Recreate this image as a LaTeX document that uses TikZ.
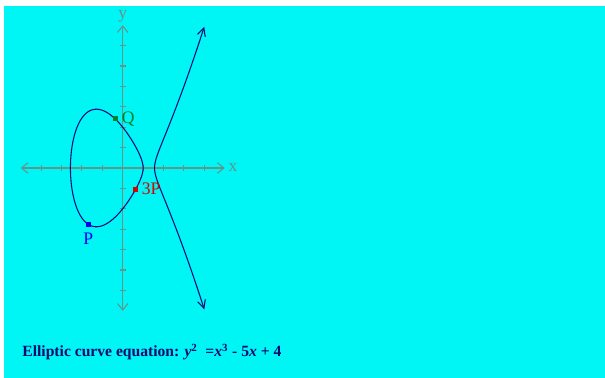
\documentclass[tikz,border=0pt]{standalone}
\usepackage{fontspec}
\setmainfont{Liberation Serif}
\usetikzlibrary{arrows.meta,positioning}
\definecolor{fond}{RGB}{0,245,245}
\definecolor{grisaxe}{RGB}{96,150,140}
\definecolor{courbe}{RGB}{10,10,120}
\definecolor{vertQ}{RGB}{0,128,40}
\definecolor{rougeP}{RGB}{215,0,0}
\definecolor{bleuP}{RGB}{0,0,245}
\definecolor{encre}{RGB}{10,10,110}

\begin{document}
\begin{tikzpicture}[
  declare function={f(\x)=\x*\x*\x-5*\x+4;},
  axis/.style={grisaxe, line width=0.75pt},
  curve/.style={courbe, line width=0.75pt},
  barb/.style={{Straight Barb[length=1.6mm,width=2.6mm]}-{Straight Barb[length=1.6mm,width=2.6mm]}},
  pointmark/.style={rectangle, fill=#1, inner sep=0pt, minimum size=1.25mm},
  lbl/.style={font=\fontsize{12.5}{14}\selectfont, inner sep=1pt}
]
  % Fond cyan (petite bordure blanche en haut et a gauche)
  \useasboundingbox (0,0) rectangle (15.125,9.45);
  \fill[fond] (0.1,0) rectangle (15.125,9.3);
  \begin{scope}[shift={(3.0675cm,5.25cm)}, x=0.51cm, y=0.51cm]
    % Axes
    \coordinate (xmin) at (-5,0);
    \coordinate (xmax) at (5,0);
    \coordinate (ymin) at (0,-7);
    \coordinate (ymax) at (0,7);
    \draw[axis, barb] (xmin) -- (xmax);
    \draw[axis, barb] (ymin) -- (ymax);
    \foreach \i in {-4,...,-1,1,2,3,4}
      \draw[axis] (\i,-0.15) -- (\i,0.15);
    \foreach \j in {-6,...,-1,1,2,...,6}
      \draw[axis] (-0.15,\j) -- (0.15,\j);
    \node[lbl, grisaxe] (xlab) at (5.41,0.05) {x};
    \node[lbl, grisaxe] (ylab) at (0,7.45) {y};
    % Ovale : x entre -2.5616 et 1
    \draw[curve] plot[domain=0:180, samples=120, variable=\t]
      ({-0.7808-1.7808*cos(\t)}, {sqrt(abs(f(-0.7808-1.7808*cos(\t))))})
      -- plot[domain=180:360, samples=120, variable=\t]
      ({-0.7808-1.7808*cos(\t)}, {-sqrt(abs(f(-0.7808-1.7808*cos(\t))))})
      -- cycle;
    % Branche infinie : x entre 1.5616 et 4
    \draw[curve, {Straight Barb[length=2mm,width=2mm]}-{Straight Barb[length=2mm,width=2mm]}]
      plot[domain=1:0, samples=60, variable=\s]
      ({1.5616+2.4384*\s*\s}, {-sqrt(abs(f(1.5616+2.4384*\s*\s)))})
      -- plot[domain=0:1, samples=60, variable=\s]
      ({1.5616+2.4384*\s*\s}, {sqrt(abs(f(1.5616+2.4384*\s*\s)))});
    % Points P, Q et 3P
    \node[pointmark=vertQ] (Q) at (-0.377, {sqrt(f(-0.377))}) {};
    \node[pointmark=rougeP] (P3) at (0.64, {-sqrt(f(0.64))}) {};
    \node[pointmark=bleuP] (P) at (-1.69, {-sqrt(f(-1.69))}) {};
    \node[lbl, vertQ, right=0.06cm of Q] (Qlab) {Q};
    \node[lbl, rougeP, right=0.04cm of P3] (P3lab) {3P};
    \node[lbl, bleuP, below=0.1cm of P] (Plab) {P};
    % Equation
    \node[lbl, encre, anchor=west, font=\fontsize{11.1}{13}\selectfont\bfseries] (eq) at (-5,-9.02)
      {Elliptic curve equation: \textit{y}\textsuperscript{2}\ \ =\textit{x}\textsuperscript{3} - 5\textit{x} + 4};
  \end{scope}
\end{tikzpicture}
\end{document}
